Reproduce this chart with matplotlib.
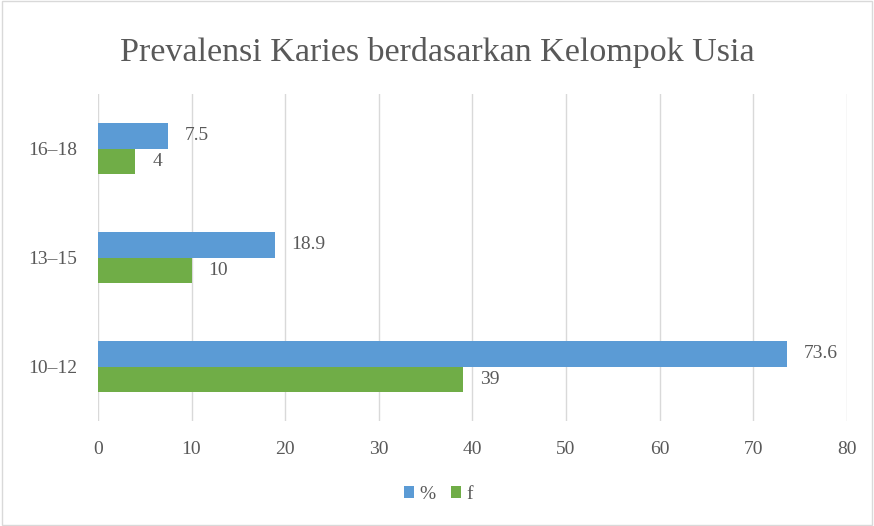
import matplotlib.pyplot as plt
import numpy as np

# data
kelompok = ["10–12", "13–15", "16–18"]
persen = [73.6, 18.9, 7.5]
frek = [39, 10, 4]

plt.rcParams["font.family"] = ["Liberation Serif", "DejaVu Serif"]
teks = "#595959"

fig = plt.figure(figsize=(8.74, 5.26), dpi=100)
ax = fig.add_axes([0.112, 0.199, 0.857, 0.622])

y = np.arange(len(kelompok))
h = 0.235
b1 = ax.barh(y + h / 2, persen, height=h, color="#5B9BD5", label="%")
b2 = ax.barh(y - h / 2, frek, height=h, color="#70AD47", label="f")

# label nilai di ujung bar
for bars, vals in [(b1, persen), (b2, frek)]:
    for bar, v in zip(bars, vals):
        ax.text(bar.get_width() + 1.8, bar.get_y() + bar.get_height() / 2,
                f"{v:g}", va="center", ha="left", fontsize=14, color=teks)

ax.set_xlim(0, 80)
ax.set_ylim(-0.5, 2.5)
ax.set_xticks(range(0, 81, 10))
ax.set_yticks(y)
ax.set_yticklabels(kelompok)
ax.tick_params(axis="x", length=0, labelcolor=teks, labelsize=14, pad=14)
ax.tick_params(axis="y", length=0, labelcolor=teks, labelsize=14, pad=15)
ax.grid(axis="x", color="#D9D9D9", linewidth=1)
ax.set_axisbelow(True)
for s in ["top", "right", "left", "bottom"]:
    ax.spines[s].set_visible(False)

fig.suptitle("Prevalensi Karies berdasarkan Kelompok Usia", y=0.93,
             fontsize=24.5, color=teks)

fig.legend(loc="center", bbox_to_anchor=(0.502, 0.06), ncol=2, frameon=False,
           fontsize=14, labelcolor=teks, handlelength=0.5, handleheight=0.5,
           columnspacing=0.8, handletextpad=0.3)

fig.patches.append(plt.Rectangle((0.002, 0.002), 0.996, 0.996, transform=fig.transFigure,
                                 fill=False, edgecolor="#D9D9D9", linewidth=1))

plt.savefig("out.png", dpi=100)
